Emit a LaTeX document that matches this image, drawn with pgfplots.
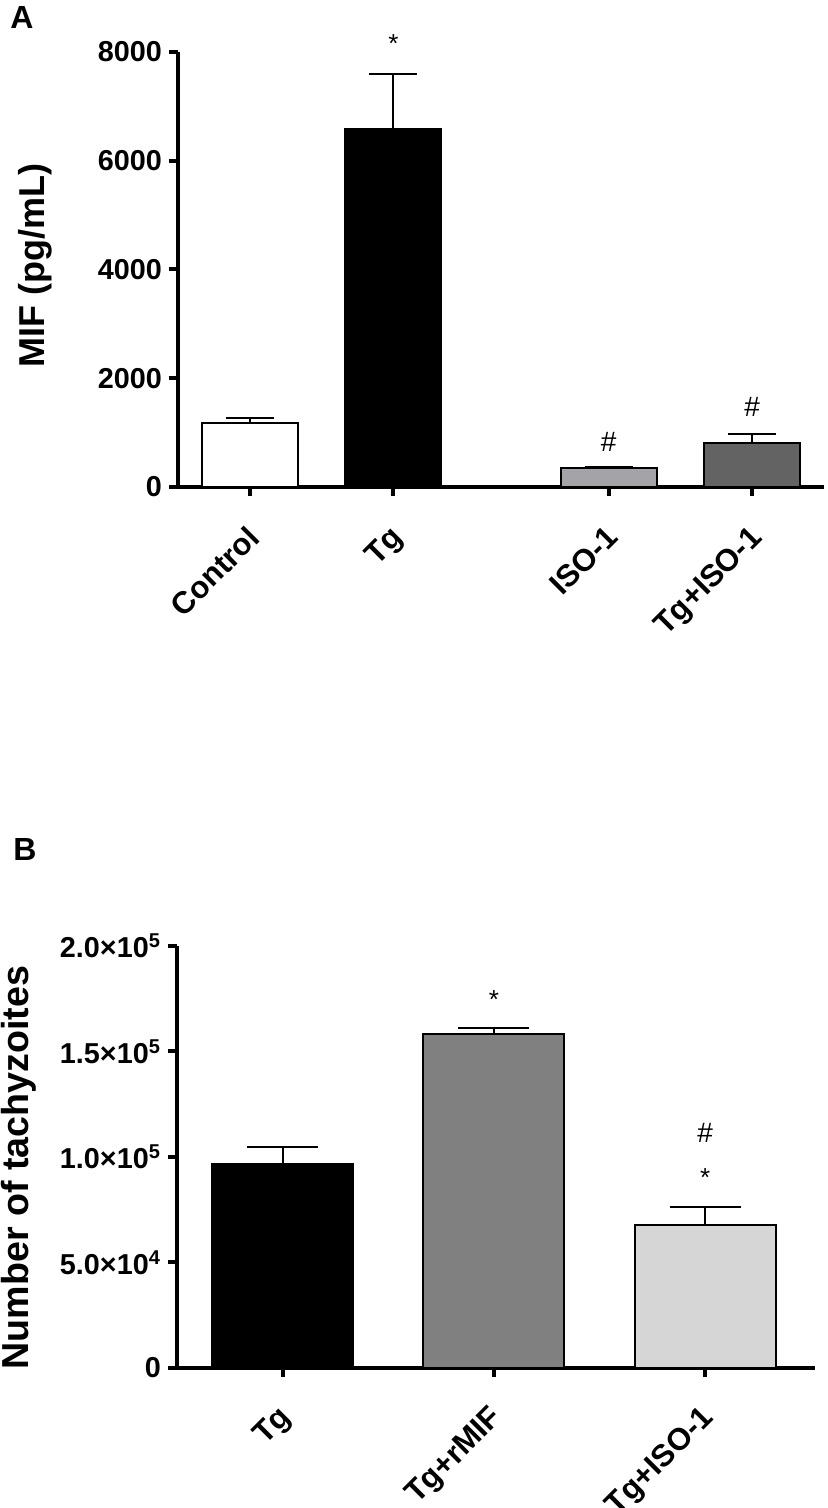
\documentclass[border=0pt]{standalone}
\usepackage{fontspec}
\setmainfont{Liberation Sans}
\usepackage{pgfplots}
\pgfplotsset{compat=1.18}

\definecolor{isoA}{HTML}{A3A3A8}
\definecolor{tgisoA}{HTML}{636363}
\definecolor{rmifB}{HTML}{808080}
\definecolor{tgisoB}{HTML}{D6D6D6}

\pgfplotsset{
  prism/.style={
    scale only axis,
    axis x line*=bottom, axis y line*=left,
    axis line style={line width=2pt},
    every tick/.style={line width=2pt, black},
    tick align=outside,
    major tick length=4.5pt,
    clip=false,
    /pgf/number format/assume math mode=true,
    /pgf/number format/1000 sep={},
    yticklabel style={font=\bfseries\fontsize{14.4}{15}\selectfont},
    xticklabel style={rotate=45, anchor=north east, font=\bfseries\fontsize{15.5}{16}\selectfont},
    ylabel style={font=\bfseries\fontsize{18}{19}\selectfont, anchor=center},
  },
  errs/.style={error bars/.cd, y dir=plus, y explicit,
    error bar style={line width=1pt, black},
    error mark=|,
    error mark options={line width=1pt, black, mark size=#1}},
}

\begin{document}
\begin{tikzpicture}
\useasboundingbox (0,0) rectangle (413.5pt,754pt);

% panel A
\begin{axis}[prism,
  at={(89pt,510.5pt)}, anchor=south west,
  width=323pt, height=217.5pt,
  xmin=-0.5, xmax=4.0, ymin=0, ymax=8000,
  ytick={0,2000,4000,6000,8000},
  xtick={0,1,2.5,3.5},
  xticklabels={Control,Tg,ISO-1,Tg+ISO-1},
  xticklabel style={yshift=-5pt, xshift=-8pt},
  ylabel={MIF (pg/mL)},
  ylabel style={at={(axis description cs:-0.221,0.51)}},
]
\addplot[ybar, bar width=48pt, fill=white, draw=black, line width=1pt, errs=12pt]
  coordinates {(0,1170) +- (0,95)};
\addplot[ybar, bar width=48pt, fill=black, draw=black, line width=1pt, errs=12pt]
  coordinates {(1,6585) +- (0,1010)};
\addplot[ybar, bar width=48pt, fill=isoA, draw=black, line width=1pt, errs=12pt]
  coordinates {(2.5,345) +- (0,25)};
\addplot[ybar, bar width=48pt, fill=tgisoA, draw=black, line width=1pt, errs=12pt]
  coordinates {(3.5,810) +- (0,165)};
\node[font=\fontsize{13}{13}\selectfont] at (axis cs:1,8150) {*};
\node[font=\fontsize{14}{14}\selectfont] at (axis cs:2.5,830) {\#};
\node[font=\fontsize{14}{14}\selectfont] at (axis cs:3.5,1465) {\#};
\end{axis}

% panel B
\begin{axis}[prism,
  at={(88.5pt,70pt)}, anchor=south west,
  width=319pt, height=211pt,
  xmin=-0.5, xmax=2.52, ymin=0, ymax=200000,
  scaled y ticks=false,
  ytick={0,50000,100000,150000,200000},
  yticklabels={0,5.0×10\textsuperscript{4},1.0×10\textsuperscript{5},1.5×10\textsuperscript{5},2.0×10\textsuperscript{5}},
  xtick={0,1,2},
  xticklabels={Tg,Tg+rMIF,Tg+ISO-1},
  xticklabel style={font=\bfseries\fontsize{15.5}{16}\selectfont, yshift=-4pt, xshift=-8pt},
  ylabel={Number of tachyzoites},
  ylabel style={at={(axis description cs:-0.248,0.475)}, font=\bfseries\fontsize{18.8}{19}\selectfont},
]
\addplot[ybar, bar width=70.5pt, fill=black, draw=black, line width=0.9pt, errs=17.75pt]
  coordinates {(0,96700) +- (0,8100)};
\addplot[ybar, bar width=70.5pt, fill=rmifB, draw=black, line width=0.9pt, errs=17.75pt]
  coordinates {(1,158200) +- (0,2900)};
\addplot[ybar, bar width=70.5pt, fill=tgisoB, draw=black, line width=0.9pt, errs=17.75pt]
  coordinates {(2,67600) +- (0,8600)};
\node[font=\fontsize{13}{13}\selectfont] at (axis cs:1,174800) {*};
\node[font=\fontsize{14}{14}\selectfont] at (axis cs:2,111600) {\#};
\node[font=\fontsize{13}{13}\selectfont] at (axis cs:2,90200) {*};
\end{axis}

\node[font=\bfseries\fontsize{16}{16}\selectfont] at (11pt,745pt) {A};
\node[font=\bfseries\fontsize{16}{16}\selectfont] at (12.5pt,329pt) {B};
\end{tikzpicture}
\end{document}
